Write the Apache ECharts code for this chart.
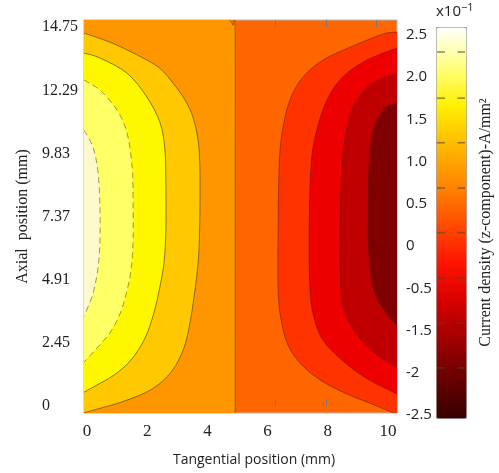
<!DOCTYPE html>
<html>
<head>
<meta charset="utf-8">
<script src="https://cdn.jsdelivr.net/npm/echarts@6.0.0/dist/echarts.min.js"></script>
<style>
html,body{margin:0;padding:0;background:#fff;}
#c{width:499px;height:473px;}
</style>
</head>
<body>
<div id="c"></div>
<script>
// ---------- data ----------
const xLabelValues = [0, 2, 4, 6, 8, 10];
const yLabelValues = [0, 2.45, 4.91, 7.37, 9.83, 12.29, 14.75];
const xTickValues = [2.94, 4.6, 6.27, 7.94, 9.6];
const yTickValues = [1.67, 4.13, 6.62, 9.11, 11.6];
const cbLabels = ['2.5', '2.0', '1.5', '1.0', '0.5', '0', '-0.5', '-1.5', '-2', '-2.5'];
const cbDashLevels = [2.18, 1.59, 1.02, 0.44, -0.13, -0.71, -1.29, -1.86];

// contour boundaries [tangential mm, axial mm]
const zeroLine = [[4.75, 15.03], [4.85, 14.83], [4.92, 14.52], [4.92, 7.4], [4.92, -0.27]];
const contourL1 = [[-0.10, 14.52], [0.86, 14.12], [1.86, 13.55], [2.43, 13.14], [2.86, 12.57], [3.26, 11.91], [3.52, 11.25], [3.69, 10.35], [3.75, 9.30], [3.75, 7.43], [3.72, 6.07], [3.65, 5.10], [3.55, 4.20], [3.42, 3.23], [3.22, 2.26], [2.82, 1.36], [2.16, 0.66], [1.23, 0.19], [0.33, -0.12], [-0.10, -0.26]];
const contourL2 = [[-0.10, 13.74], [0.43, 13.55], [1.33, 12.96], [1.99, 12.03], [2.43, 11.02], [2.59, 9.96], [2.62, 8.68], [2.62, 6.85], [2.56, 5.60], [2.44, 4.75], [2.24, 3.70], [1.93, 2.65], [1.46, 1.79], [0.90, 1.21], [0.33, 0.82], [-0.10, 0.54]];
const contourL3 = [[-0.10, 12.69], [0.43, 12.30], [1.00, 11.52], [1.33, 10.63], [1.50, 9.30], [1.53, 8.02], [1.53, 6.46], [1.47, 5.35], [1.32, 4.45], [1.10, 3.60], [0.76, 2.85], [0.33, 2.26], [-0.10, 1.71]];
const contourL4 = [[-0.10, 10.74], [0.20, 10.08], [0.37, 9.07], [0.43, 7.75], [0.43, 6.46], [0.37, 5.41], [0.23, 4.52], [0.10, 4.05], [-0.10, 3.50]];
const contourR1 = [[10.30, 14.56], [9.83, 14.48], [8.74, 13.97], [7.84, 13.47], [7.18, 12.81], [6.74, 11.91], [6.48, 10.63], [6.38, 9.19], [6.35, 6.73], [6.35, 4.52], [6.45, 3.35], [6.68, 2.37], [7.14, 1.60], [7.81, 0.97], [8.64, 0.47], [9.47, 0.08], [10.17, -0.27]];
const contourR2 = [[10.30, 13.94], [9.30, 13.47], [8.50, 12.81], [7.97, 11.91], [7.61, 10.63], [7.44, 9.30], [7.38, 6.73], [7.41, 4.52], [7.54, 3.46], [7.84, 2.57], [8.47, 1.79], [9.27, 1.09], [10.30, 0.47]];
const contourR3 = [[10.30, 12.96], [9.50, 12.57], [8.97, 11.91], [8.64, 10.86], [8.47, 9.30], [8.41, 6.73], [8.44, 4.52], [8.57, 3.66], [8.94, 2.84], [9.57, 2.06], [10.30, 1.52]];
const contourR4 = [[10.30, 11.79], [9.83, 11.52], [9.50, 10.63], [9.37, 9.30], [9.34, 6.73], [9.40, 5.49], [9.53, 4.52], [9.87, 3.74], [10.30, 3.15]];

// ---------- styles ----------
const X_MIN = -0.1, X_MAX = 10.3, Y_MIN = -0.27, Y_MAX = 15.03;
const cbColors = ['#3a0000', '#680000', '#a00000', '#d80000', '#ff1500', '#ff4f00', '#ff8800', '#ffba00', '#fff000', '#ffff80', '#ffffff'];
const serif = "'Liberation Serif', 'Times New Roman', serif";
const sans = "'Open Sans', 'Noto Sans', sans-serif";
const solidL = {color: 'rgba(85,65,25,0.75)', width: 0.9, dash: null};
const dashL = {color: 'rgba(120,100,40,0.75)', width: 0.9, dash: [6, 4]};
const solidR = {color: 'rgba(90,20,0,0.55)', width: 0.9, dash: null};

const layers = [
  {pts: zeroLine, fill: '#ff9600', corners: ['bl', 'tl'], line: {color: 'rgba(110,40,0,0.55)', width: 0.9, dash: null}},
  {pts: contourL1, fill: '#ffc800', corners: ['bl'], line: solidL},
  {pts: contourL2, fill: '#fff700', corners: [], line: solidL},
  {pts: contourL3, fill: '#ffff66', corners: [], line: dashL},
  {pts: contourL4, fill: '#fdf9cc', corners: [], line: dashL},
  {pts: contourR1, fill: '#ff3300', corners: ['br'], line: solidR},
  {pts: contourR2, fill: '#ee0000', corners: [], line: solidR},
  {pts: contourR3, fill: '#c00000', corners: [], line: solidR},
  {pts: contourR4, fill: '#800000', corners: [], line: solidR}
];

function cornerValue(c) {
  return [c[1] === 'l' ? X_MIN : X_MAX, c[0] === 'b' ? Y_MIN : Y_MAX];
}
function smoothPath(p) {
  let d = 'M' + p[0][0] + ' ' + p[0][1];
  for (let i = 0; i < p.length - 1; i++) {
    const p0 = p[i - 1] || p[i], p1 = p[i], p2 = p[i + 1], p3 = p[i + 2] || p[i + 1];
    const c1x = p1[0] + (p2[0] - p0[0]) / 6, c1y = p1[1] + (p2[1] - p0[1]) / 6;
    const c2x = p2[0] - (p3[0] - p1[0]) / 6, c2y = p2[1] - (p3[1] - p1[1]) / 6;
    d += ' C' + c1x + ' ' + c1y + ' ' + c2x + ' ' + c2y + ' ' + p2[0] + ' ' + p2[1];
  }
  return d;
}
function makeLayer(layer) {
  return {
    type: 'custom', xAxisIndex: 0, yAxisIndex: 0, clip: true, silent: true,
    data: layer.pts,
    renderItem: function (params, api) {
      if (params.dataIndex !== 0) return null;
      const px = layer.pts.map(function (p) { return api.coord(p); });
      const cp = layer.corners.map(function (c) { return api.coord(cornerValue(c)); });
      const curve = smoothPath(px);
      const fillPath = curve + cp.map(function (q) { return ' L' + q[0] + ' ' + q[1]; }).join('') + ' Z';
      return {
        type: 'group',
        children: [
          {type: 'path', shape: {pathData: fillPath}, style: {fill: layer.fill, stroke: null}},
          {type: 'path', shape: {pathData: curve}, style: {fill: null, stroke: layer.line.color, lineWidth: layer.line.width, lineDash: layer.line.dash}}
        ]
      };
    }
  };
}

const series = layers.map(makeLayer);
series.push({
  type: 'custom', xAxisIndex: 3, yAxisIndex: 2, silent: true, z: 10,
  data: cbDashLevels.map(function (v) { return [0, v]; }),
  renderItem: function (params, api) {
    const v = api.value(1);
    const a = api.coord([0, v]), b = api.coord([1, v]);
    const w = b[0] - a[0];
    const st = {stroke: 'rgba(80,70,30,0.6)', lineWidth: 1.6};
    return {type: 'group', children: [
      {type: 'line', shape: {x1: a[0] + 1, y1: a[1], x2: a[0] + w * 0.3, y2: a[1]}, style: st},
      {type: 'line', shape: {x1: a[0] + w * 0.72, y1: a[1], x2: b[0] - 1, y2: a[1]}, style: st}
    ]};
  }
});

const chart = echarts.init(document.getElementById('c'), null, {renderer: 'canvas'});
chart.setOption({
  animation: false,
  backgroundColor: '#ffffff',
  title: {
    text: 'x10{s|\u22121}', left: 436, top: 2, padding: 0,
    textStyle: {fontFamily: sans, fontSize: 15, fontWeight: 'normal', color: '#222',
      rich: {s: {fontFamily: sans, fontSize: 11, color: '#222', verticalAlign: 'bottom', padding: [0, 0, 9, 0]}}}
  },
  grid: [
    {left: 84, top: 20, width: 313, height: 393, show: true, backgroundColor: '#ff6600', borderColor: '#b5b5b5', borderWidth: 1},
    {left: 436, top: 35, width: 30, height: 380},
    {left: 436, top: 27, width: 30, height: 391}
  ],
  xAxis: [
    {gridIndex: 0, type: 'value', min: X_MIN, max: X_MAX, position: 'bottom',
      axisLine: {show: false}, splitLine: {show: false},
      axisTick: {show: true, inside: true, length: 7, customValues: xTickValues, lineStyle: {color: '#777'}},
      axisLabel: {customValues: xLabelValues, margin: 10, fontFamily: serif, fontSize: 17, color: '#222'},
      name: 'Tangential position (mm)', nameLocation: 'middle', nameGap: 40,
      nameTextStyle: {fontFamily: sans, fontSize: 14, color: '#222', padding: [0, 0, 0, 27]}},
    {gridIndex: 0, type: 'value', min: X_MIN, max: X_MAX, position: 'top',
      axisLine: {show: false}, splitLine: {show: false}, axisLabel: {show: false},
      axisTick: {show: true, inside: true, length: 7, customValues: xTickValues, lineStyle: {color: '#777'}}},
    {gridIndex: 1, type: 'value', show: false},
    {gridIndex: 2, type: 'value', show: false, min: 0, max: 1}
  ],
  yAxis: [
    {gridIndex: 0, type: 'value', min: Y_MIN, max: Y_MAX,
      axisLine: {show: false}, splitLine: {show: false},
      axisTick: {show: true, inside: true, length: 5, customValues: yTickValues, lineStyle: {color: '#777'}},
      axisLabel: {customValues: yLabelValues, align: 'left', margin: 42, fontFamily: serif, fontSize: 16, color: '#222'},
      name: 'Axial  position (mm)', nameLocation: 'middle', nameGap: 52, nameRotate: 90,
      nameTextStyle: {fontFamily: serif, fontSize: 16, color: '#222'}},
    {gridIndex: 1, type: 'category', data: cbLabels, inverse: true, boundaryGap: false,
      axisLine: {show: false}, axisTick: {show: false}, splitLine: {show: false},
      axisLabel: {align: 'left', margin: 30, fontFamily: sans, fontSize: 15, color: '#222', interval: 0}},
    {gridIndex: 2, type: 'value', min: -2.5, max: 2.5, position: 'right',
      axisLine: {show: false}, axisTick: {show: false}, axisLabel: {show: false}, splitLine: {show: false},
      name: 'Current density (z-component)-A/mm\u00b2', nameLocation: 'middle', nameRotate: 90, nameGap: 12,
      nameTextStyle: {fontFamily: serif, fontSize: 16, color: '#222'}}
  ],
  visualMap: {
    type: 'continuous', min: -2.5, max: 2.5, seriesIndex: [],
    left: 436, top: 27, itemWidth: 30, itemHeight: 391, padding: 0,
    calculable: false, text: null, orient: 'vertical',
    borderColor: '#999', borderWidth: 1,
    inRange: {color: cbColors}
  },
  series: series
});
</script>
</body>
</html>
